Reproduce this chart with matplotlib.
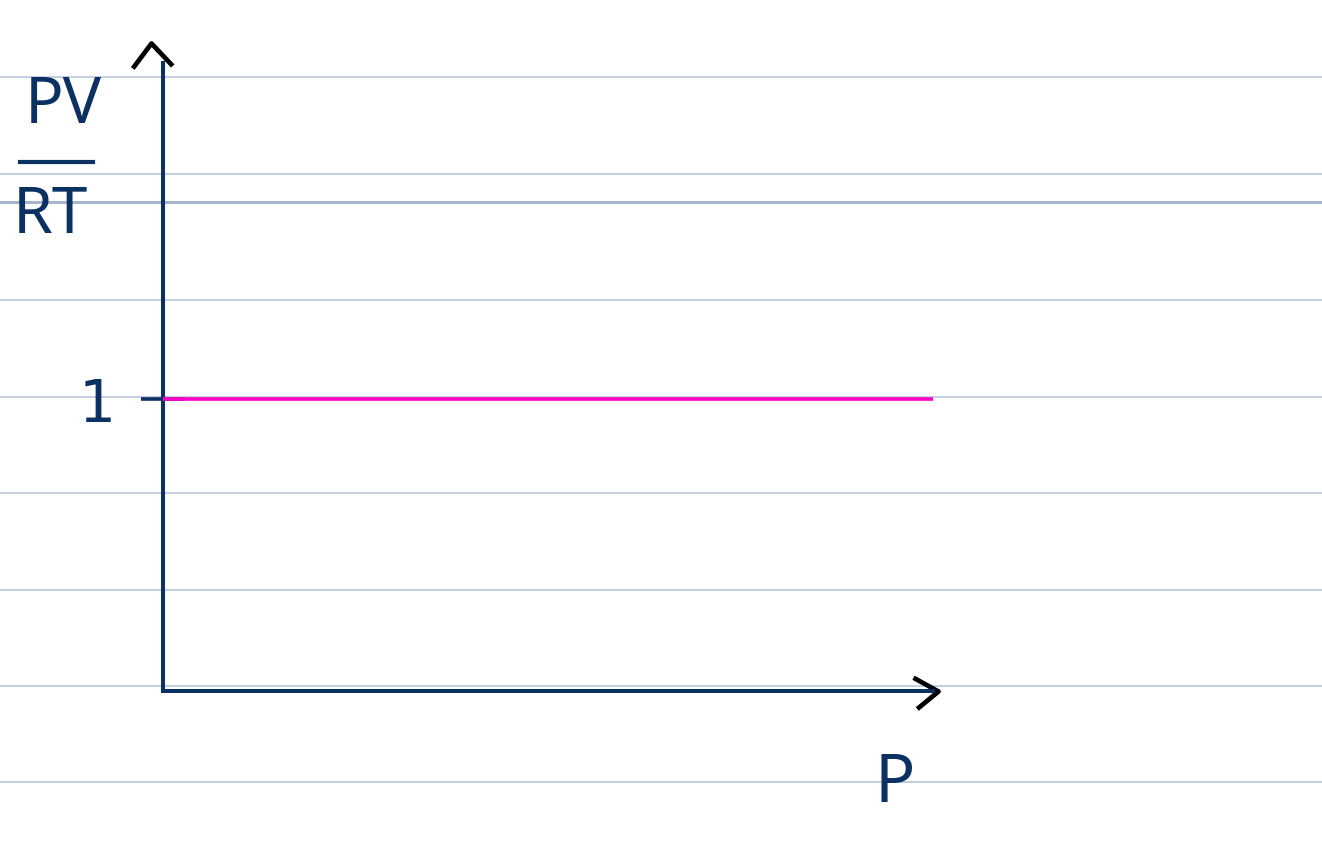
import numpy as np
import matplotlib.pyplot as plt
from matplotlib.path import Path

# data: ideal gas, PV/RT = 1 at every pressure
p = [0.0, 1.0]
z = [1.0, 1.0]
y_ticks = [1]
y_tick_labels = ["1"]

# ruled paper lines (pixel rows of the notebook page)
rule_rows = [77, 174, 300, 397, 493, 590, 686, 782]
margin_row = 202

navy = "#0b3162"
pink = "#ff00c8"
rule = "#b3c1d9"

W, H = 1322, 860
fig = plt.figure(figsize=(W / 100, H / 100), dpi=100)
fig.patch.set_facecolor("white")

# paper background
bg = fig.add_axes([0, 0, 1, 1])
bg.set_xlim(0, W)
bg.set_ylim(H, 0)
bg.axis("off")
for r in rule_rows:
    bg.axhline(r, color=rule, lw=1.1)
bg.axhline(margin_row, color="#a7b5cb", lw=2.2)

# plot axes: origin at (163, 691) px, y=1 at ~400 px
x0, y0 = 163, 691
unit_y = 292
ymax = 2.15
ax = fig.add_axes([x0 / W, (H - y0) / H, (933 - x0) / W, unit_y * ymax / H])
ax.set_xlim(0, 1.0)
ax.set_ylim(0, ymax)
ax.patch.set_alpha(0)
for s in ["top", "right"]:
    ax.spines[s].set_visible(False)
for s in ["left", "bottom"]:
    ax.spines[s].set_color(navy)
    ax.spines[s].set_linewidth(2.9)

ax.set_xticks([])
ax.set_yticks(y_ticks)
ax.set_yticklabels(y_tick_labels)
ax.tick_params(axis="y", direction="inout", length=32, width=2.6, color=navy,
               labelsize=42, labelcolor=navy, pad=18)

ax.plot(p, z, color=pink, lw=2.6, solid_capstyle="butt", zorder=5, clip_on=False)

# chevron arrowheads at the axis ends
up = Path([(-0.75, -1.0), (0, 0), (0.85, -0.9)], [Path.MOVETO, Path.LINETO, Path.LINETO])
right = Path([(-1.0, 0.55), (0, 0), (-0.85, -0.7)], [Path.MOVETO, Path.LINETO, Path.LINETO])
ax.plot([-0.016], [ymax + 0.07], marker=up, ms=36, mfc="none", mec="black", mew=3.4,
        clip_on=False)
ax.plot([1.006], [0], marker=right, ms=36, mfc="none", mec="black", mew=3.4,
        clip_on=False)

# axis labels
ax.text(0.95, -0.32, "P", transform=ax.transData, color=navy, fontsize=48,
        ha="center", va="center", family="Noto Sans")
fig.text(63 / W, 1 - 106 / H, "PV", color=navy, fontsize=46, ha="center",
         va="center", family="Noto Sans")
fig.text(50 / W, 1 - 216 / H, "RT", color=navy, fontsize=46, ha="center",
         va="center", family="Noto Sans")
bg.plot([20, 93], [162, 162], color=navy, lw=3.0)

fig.savefig("out.png", dpi=100)
